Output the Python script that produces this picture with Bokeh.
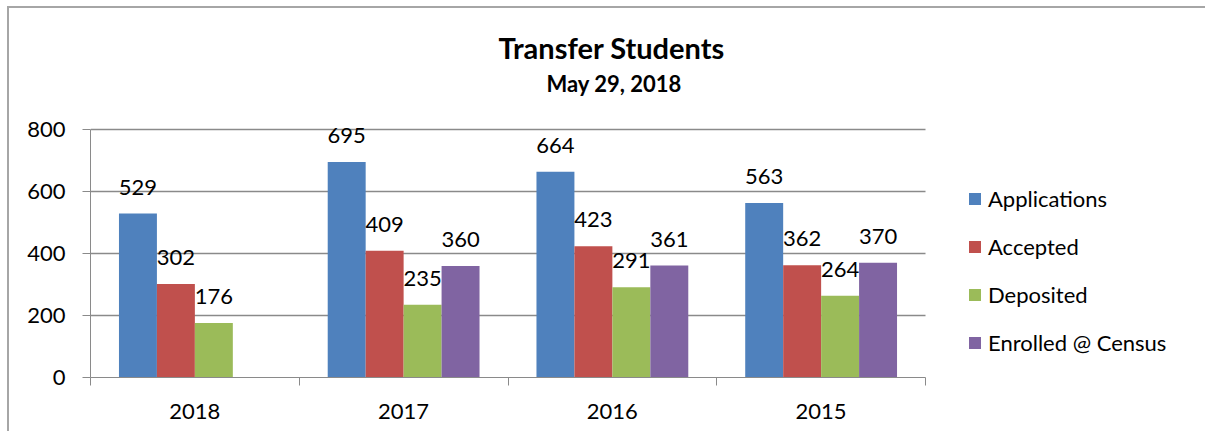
from bokeh.plotting import figure
from bokeh.models import ColumnDataSource, Range1d, FixedTicker, LabelSet, Title
from bokeh.core.properties import value
from bokeh.transform import dodge
from bokeh.embed import file_html
from bokeh.resources import INLINE

# ---- data ----
categories = ["2018", "2017", "2016", "2015"]
series_names = ["Applications", "Accepted", "Deposited", "Enrolled @ Census"]
applications = [529, 695, 664, 563]
accepted = [302, 409, 423, 362]
deposited = [176, 235, 291, 264]
enrolled = [None, 360, 361, 370]
y_ticks = [0, 200, 400, 600, 800]
title_text = "Transfer Students"
subtitle_text = "May 29, 2018"

colors = ["#4F81BD", "#C0504D", "#9BBB59", "#8064A2"]
FONT = "Lato"
GRID = "#8a8a8a"
FS = "22px"

series_values = [applications, accepted, deposited, enrolled]
n_cat = len(categories)
n_ser = len(series_values)
bar_w = 1.0 / (n_ser + 1.5)
y_max = y_ticks[-1]

# layout: the bar area is 835 x 248 px; the frame extends right (legend) and up (labels)
W, H = 1198, 425
LEFT, RIGHT = 81, 2
bar_area_px = 835
frame_px = W - LEFT - RIGHT
x_end = n_cat * frame_px / bar_area_px
plot_h_px = 248
extra_top_px = 20
y_end = y_max * (plot_h_px + extra_top_px) / plot_h_px

p = figure(width=W, height=H, x_range=Range1d(0, x_end), y_range=Range1d(0, y_end),
           output_backend="svg", toolbar_location=None, title=None,
           min_border_left=LEFT, min_border_right=RIGHT, min_border_top=121 - extra_top_px,
           min_border_bottom=56)
p.styles = {"margin-left": "7px", "margin-top": "6px",
            "border-top": "2px solid #a6a6a6", "border-left": "2px solid #a6a6a6"}
p.outline_line_color = None
p.background_fill_color = "white"
p.border_fill_color = "white"
p.xgrid.grid_line_color = None
p.ygrid.grid_line_color = None

# horizontal gridlines spanning only the bar area
grid_src = ColumnDataSource(dict(y=y_ticks[1:], x0=[0] * (len(y_ticks) - 1), x1=[n_cat] * (len(y_ticks) - 1)))
p.segment(x0="x0", x1="x1", y0="y", y1="y", source=grid_src, line_color=GRID, line_width=1.3)

for i, (name, vals) in enumerate(zip(series_names, series_values)):
    xs, tops, labels = [], [], []
    for j, v in enumerate(vals):
        if v is None:
            continue
        xs.append(j + 0.5)
        tops.append(v)
        labels.append(str(v))
    src = ColumnDataSource(dict(x=xs, top=tops, label=labels))
    off = (i - (n_ser - 1) / 2) * bar_w
    p.vbar(x=dodge("x", off, range=p.x_range), top="top", width=bar_w, source=src,
           fill_color=colors[i], line_color=None, legend_label=name)
    p.add_layout(LabelSet(x=dodge("x", off, range=p.x_range), y="top", text="label", source=src,
                          text_align="center", text_baseline="bottom", y_offset=19,
                          text_font=value(FONT), text_font_size=value(FS), text_color="black"))

# axes
xax = p.xaxis[0]
xax.bounds = (0, n_cat)
xax.ticker = FixedTicker(ticks=[j + 0.5 for j in range(n_cat)], minor_ticks=list(range(n_cat + 1)))
xax.major_label_overrides = {j + 0.5: c for j, c in enumerate(categories)}
xax.major_tick_out = 0
xax.major_tick_in = 0
xax.minor_tick_out = 8
xax.minor_tick_in = 0
xax.minor_tick_line_color = GRID
xax.axis_line_color = GRID
xax.major_label_text_font = FONT
xax.major_label_text_font_size = FS
xax.major_label_text_color = "black"
xax.major_label_standoff = 18

yax = p.yaxis[0]
yax.bounds = (0, y_max)
yax.ticker = FixedTicker(ticks=y_ticks, minor_ticks=[])
yax.major_tick_out = 8
yax.major_tick_in = 0
yax.minor_tick_out = 0
yax.major_tick_line_color = GRID
yax.axis_line_color = GRID
yax.major_label_text_font = FONT
yax.major_label_text_font_size = FS
yax.major_label_text_color = "black"
yax.major_label_standoff = 17

# titles (small spacer nearest frame, then subtitle, then title)
p.add_layout(Title(text=" ", text_font=FONT, text_font_size="5.7px", text_color="white", standoff=0), "above")
p.add_layout(Title(text=subtitle_text, text_font=FONT, text_font_size="22px", text_font_style="bold",
                   text_color="black", align="left", offset=456, standoff=6, vertical_align="middle"), "above")
p.add_layout(Title(text=title_text, text_font=FONT, text_font_size="29px", text_font_style="bold",
                   text_color="black", align="left", offset=408, standoff=0, vertical_align="middle"), "above")

# legend (inside the extended frame, right of the bars)
lg = p.legend[0]
lg.location = (877, 21)
lg.margin = 0
lg.padding = 0
lg.border_line_color = None
lg.background_fill_alpha = 0
lg.glyph_width = 15
lg.glyph_height = 15
lg.label_standoff = 6
lg.label_height = 24
lg.spacing = 21
lg.label_text_font = FONT
lg.label_text_font_size = FS
lg.label_text_color = "black"

open("out.html", "w").write(file_html(p, INLINE))
